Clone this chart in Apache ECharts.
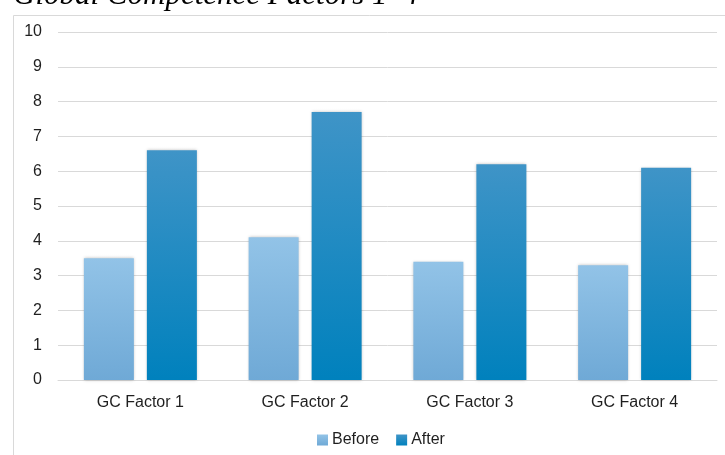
<!DOCTYPE html>
<html>
<head>
<meta charset="utf-8">
<script src="https://cdn.jsdelivr.net/npm/echarts@6/dist/echarts.min.js"></script>
<style>
  html, body { margin: 0; padding: 0; background: #ffffff; }
  #chart { width: 725px; height: 455px; }
</style>
</head>
<body>
<div id="chart"></div>
<script>
// Scores per Global Competence factor, before and after
const categories = ['GC Factor 1', 'GC Factor 2', 'GC Factor 3', 'GC Factor 4'];
const beforeValues = [3.5, 4.1, 3.4, 3.3];
const afterValues = [6.6, 7.7, 6.2, 6.1];
const seriesNames = ['Before', 'After'];
const titleText = 'Global Competence Factors 1–4';

const sans = 'Liberation Sans, Arial, Helvetica, sans-serif';
const textColor = '#1f1f1f';

function vGrad(top, bottom) {
  return new echarts.graphic.LinearGradient(0, 0, 0, 1, [
    { offset: 0, color: top },
    { offset: 1, color: bottom }
  ]);
}

const chart = echarts.init(document.getElementById('chart'), null, { renderer: 'canvas' });

chart.setOption({
  animation: false,
  backgroundColor: '#ffffff',
  graphic: [
    {
      type: 'rect',
      shape: { x: 13.5, y: 15.5, width: 740, height: 470 },
      style: { fill: 'none', stroke: '#d9d9d9', lineWidth: 1 },
      z: 0
    },
    {
      type: 'text',
      x: 13,
      y: -4,
      style: {
        text: titleText,
        font: 'italic 31px "Liberation Serif", "Times New Roman", serif',
        fill: '#000000',
        verticalAlign: 'middle',
        align: 'left'
      },
      z: 10
    }
  ],
  legend: {
    data: seriesNames,
    left: 312,
    top: 427,
    itemWidth: 11,
    itemHeight: 11,
    itemGap: 17,
    icon: 'rect',
    textStyle: { fontFamily: sans, fontSize: 16, color: textColor, padding: [0, 0, 0, -1] }
  },
  grid: { left: 58, right: 8, top: 32, bottom: 75, containLabel: false },
  xAxis: {
    type: 'category',
    data: categories,
    axisLine: { show: true, lineStyle: { color: '#d9d9d9', width: 1 } },
    axisTick: { show: false },
    axisLabel: { fontFamily: sans, fontSize: 16, color: textColor, margin: 15 }
  },
  yAxis: {
    type: 'value',
    min: 0,
    max: 10,
    interval: 1,
    axisLine: { show: false },
    axisTick: { show: false },
    axisLabel: { fontFamily: sans, fontSize: 16, color: textColor, margin: 16 },
    splitLine: { lineStyle: { color: '#d9d9d9', width: 1 } }
  },
  series: [
    {
      name: seriesNames[0],
      type: 'bar',
      data: beforeValues,
      barWidth: 50,
      barGap: '26%',
      itemStyle: {
        color: vGrad('#92c3e7', '#6fa9d6'),
        shadowColor: 'rgba(0,0,0,0.25)',
        shadowBlur: 3,
        shadowOffsetX: 0,
        shadowOffsetY: 0
      }
    },
    {
      name: seriesNames[1],
      type: 'bar',
      data: afterValues,
      barWidth: 50,
      barGap: '26%',
      itemStyle: {
        color: vGrad('#3f94c7', '#0081bd'),
        shadowColor: 'rgba(0,0,0,0.25)',
        shadowBlur: 3,
        shadowOffsetX: 0,
        shadowOffsetY: 0
      }
    }
  ]
});
</script>
</body>
</html>
